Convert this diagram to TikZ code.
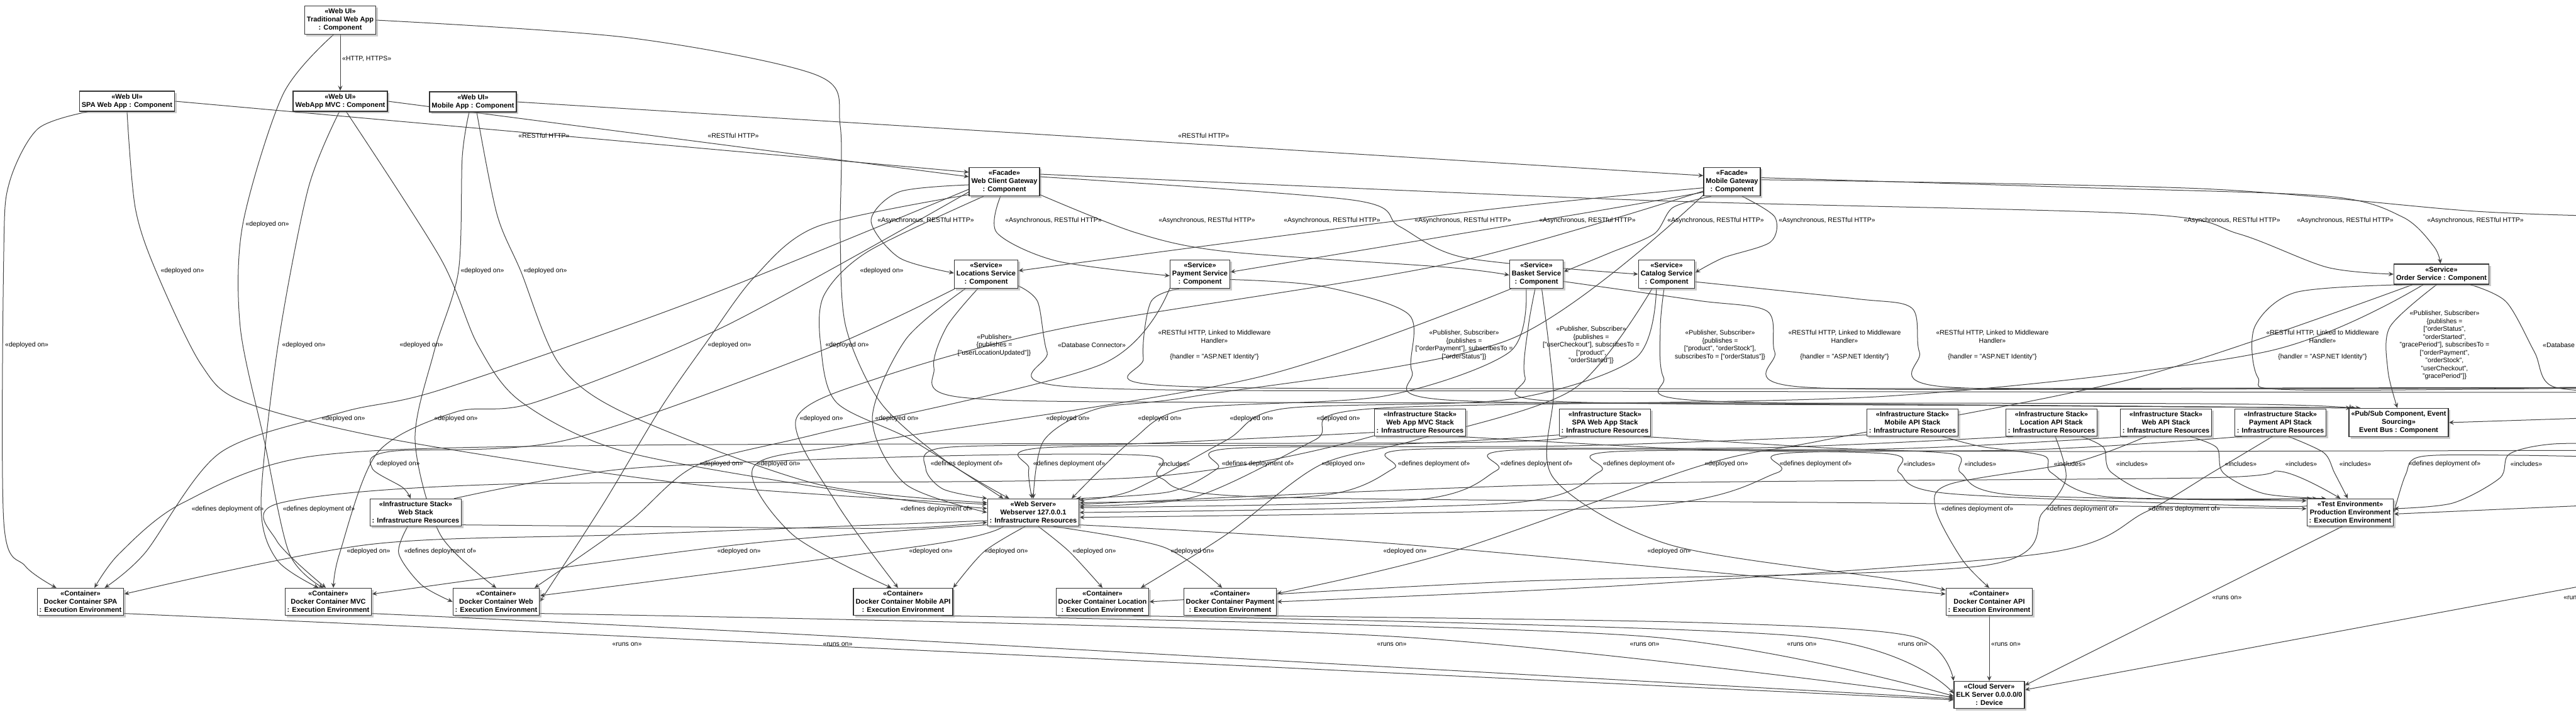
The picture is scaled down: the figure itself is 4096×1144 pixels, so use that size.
\documentclass[tikz,border=0pt]{standalone}
\usepackage{fontspec}
\setmainfont{Liberation Sans}
\usetikzlibrary{arrows.meta,shadows}
\pgfdeclarelayer{edges}
\pgfsetlayers{edges,main}
\tikzset{
  box/.style={draw=black!80, line width=1.3pt, fill=white, align=center,
    font=\bfseries\fontsize{11}{13}\selectfont, inner xsep=3.5pt, inner ysep=4.5pt,
    drop shadow={shadow xshift=3pt, shadow yshift=-3pt, fill=black!40}},
  lbl/.style={align=center, font=\fontsize{10.5}{12.5}\selectfont, inner sep=0pt},
  arr/.style={draw=black!75, line width=1pt, -{Stealth[length=8pt, width=7pt, inset=3pt]}},
}
\begin{document}
\begin{tikzpicture}[x=1pt, y=-1pt]
            \useasboundingbox (0,0) rectangle (4096,1144);
            \clip (0,0) rectangle (4096,1144);

            \node[box] (trad) at (541,32) {«Web UI»\\Traditional Web App\\: Component};
            \node[box] (spa) at (202,161) {«Web UI»\\SPA Web App : Component};
            \node[box] (mvc) at (541,161) {«Web UI»\\WebApp MVC : Component};
            \node[box] (mob) at (752,162) {«Web UI»\\Mobile App : Component};
            \node[box] (wcg) at (1597,289) {«Facade»\\Web Client Gateway\\: Component};
            \node[box] (mgw) at (2754,289) {«Facade»\\Mobile Gateway\\: Component};
            \node[box] (loc) at (1568,436) {«Service»\\Locations Service\\: Component};
            \node[box] (pay) at (1908,436) {«Service»\\Payment Service\\: Component};
            \node[box] (bsk) at (2443,436) {«Service»\\Basket Service\\: Component};
            \node[box] (cat) at (2650,436) {«Service»\\Catalog Service\\: Component};
            \node[box] (ord) at (3882,436) {«Service»\\Order Service : Component};
            \node[box] (mvcstk) at (2258,672) {«Infrastructure Stack»\\Web App MVC Stack\\: Infrastructure Resources};
            \node[box] (spastk) at (2552,672) {«Infrastructure Stack»\\SPA Web App Stack\\: Infrastructure Resources};
            \node[box] (mobstk) at (3041,672) {«Infrastructure Stack»\\Mobile API Stack\\: Infrastructure Resources};
            \node[box] (locstk) at (3262,672) {«Infrastructure Stack»\\Location API Stack\\: Infrastructure Resources};
            \node[box] (apistk) at (3444,672) {«Infrastructure Stack»\\Web API Stack\\: Infrastructure Resources};
            \node[box] (paystk) at (3626,672) {«Infrastructure Stack»\\Payment API Stack\\: Infrastructure Resources};
            \node[box] (bus) at (3814,672) {«Pub/Sub Component, Event\\Sourcing»\\Event Bus : Component};
            \node[box] (webstk) at (661,815) {«Infrastructure Stack»\\Web Stack\\: Infrastructure Resources};
            \node[box] (websrv) at (1643,815) {«Web Server»\\Webserver 127.0.0.1\\: Infrastructure Resources};
            \node[box] (prod) at (3737,815) {«Test Environment»\\Production Environment\\: Execution Environment};
            \node[box] (dspa) at (128,957) {«Container»\\Docker Container SPA\\: Execution Environment};
            \node[box] (dmvc) at (522,957) {«Container»\\Docker Container MVC\\: Execution Environment};
            \node[box] (dweb) at (789,957) {«Container»\\Docker Container Web\\: Execution Environment};
            \node[box] (dmob) at (1436,957) {«Container»\\Docker Container Mobile API\\: Execution Environment};
            \node[box] (dloc) at (1753,957) {«Container»\\Docker Container Location\\: Execution Environment};
            \node[box] (dpay) at (1956,957) {«Container»\\Docker Container Payment\\: Execution Environment};
            \node[box] (dapi) at (3163,957) {«Container»\\Docker Container API\\: Execution Environment};
            \node[box] (elk) at (3163,1105) {«Cloud Server»\\ELK Server 0.0.0.0/0\\: Device};

            \coordinate (offA) at (4200,345);
            \coordinate (idp) at (4200,616);
            \coordinate (dbs) at (4200,624);
            \coordinate (offE) at (4200,716);
            \coordinate (offF) at (4200,728);
            \coordinate (offG) at (4200,706);
            \coordinate (offH) at (4250,905);
            \coordinate (offJ) at (4200,662);
            \coordinate (offK) at (4200,800);

            \node[lbl, anchor=west] (lhttp) at (544,94) {«HTTP, HTTPS»};
            \node[lbl] (lrest1) at (865,216) {«RESTful HTTP»};
            \node[lbl] (lrest2) at (1166,216) {«RESTful HTTP»};
            \node[lbl] (lrest3) at (1914,216) {«RESTful HTTP»};
            \node[lbl] (lasy1) at (1472,351) {«Asynchronous, RESTful HTTP»};
            \node[lbl] (lasy2) at (1675,351) {«Asynchronous, RESTful HTTP»};
            \node[lbl] (lasy3) at (1919,351) {«Asynchronous, RESTful HTTP»};
            \node[lbl] (lasy4) at (2118,351) {«Asynchronous, RESTful HTTP»};
            \node[lbl] (lasy5) at (2326,351) {«Asynchronous, RESTful HTTP»};
            \node[lbl] (lasy6) at (2524,351) {«Asynchronous, RESTful HTTP»};
            \node[lbl] (lasy7) at (2728,351) {«Asynchronous, RESTful HTTP»};
            \node[lbl] (lasy8) at (2905,351) {«Asynchronous, RESTful HTTP»};
            \node[lbl] (lasy9) at (3549,351) {«Asynchronous, RESTful HTTP»};
            \node[lbl] (lasy10) at (3729,351) {«Asynchronous, RESTful HTTP»};
            \node[lbl] (lasy11) at (3936,351) {«Asynchronous, RESTful HTTP»};
            \node[lbl] (lpub1) at (1581,549) {«Publisher»\\\{publishes =\\{}["userLocationUpdated"]\}};
            \node[lbl] (ldb1) at (1736,549) {«Database Connector»};
            \node[lbl] (lmid1) at (1931,549) {«RESTful HTTP, Linked to Middleware\\Handler»\\[12.5pt]\{handler = "ASP.NET Identity"\}};
            \node[lbl] (lpub2) at (2328,549) {«Publisher, Subscriber»\\\{publishes =\\{}["orderPayment"], subscribesTo =\\{}["orderStatus"]\}};
            \node[lbl] (lpub3) at (2530,549) {«Publisher, Subscriber»\\\{publishes =\\{}["userCheckout"], subscribesTo =\\{}["product",\\"orderStarted"]\}};
            \node[lbl] (lpub4) at (2735,549) {«Publisher, Subscriber»\\\{publishes =\\{}["product", "orderStock"],\\subscribesTo = ["orderStatus"]\}};
            \node[lbl] (lmid2) at (2933,549) {«RESTful HTTP, Linked to Middleware\\Handler»\\[12.5pt]\{handler = "ASP.NET Identity"\}};
            \node[lbl] (lmid3) at (3168,549) {«RESTful HTTP, Linked to Middleware\\Handler»\\[12.5pt]\{handler = "ASP.NET Identity"\}};
            \node[lbl] (lmid4) at (3693,549) {«RESTful HTTP, Linked to Middleware\\Handler»\\[12.5pt]\{handler = "ASP.NET Identity"\}};
            \node[lbl] (lpub5) at (3887,549) {«Publisher, Subscriber»\\\{publishes =\\{}["orderStatus",\\"orderStarted",\\"gracePeriod"], subscribesTo =\\{}["orderPayment",\\"orderStock",\\"userCheckout",\\"gracePeriod"]\}};
            \node[lbl, anchor=west] (ldb2) at (4043,549) {«Database Connector»};

            \node[lbl] (ldep1) at (425,357) {«deployed on»};
            \node[lbl] (ldep2) at (290,431) {«deployed on»};
            \node[lbl, anchor=west] (ldep3) at (8,549) {«deployed on»};
            \node[lbl] (ldep4) at (483,549) {«deployed on»};
            \node[lbl] (ldep5) at (670,549) {«deployed on»};
            \node[lbl] (ldep6) at (767,431) {«deployed on»};
            \node[lbl] (ldep7) at (867,431) {«deployed on»};
            \node[lbl] (ldep8) at (1160,549) {«deployed on»};
            \node[lbl] (ldep9) at (1347,549) {«deployed on»};
            \node[lbl] (ldep10) at (1402,431) {«deployed on»};
            \node[lbl] (ldep11) at (546,666) {«deployed on»};
            \node[lbl] (ldep12) at (725,666) {«deployed on»};
            \node[lbl] (ldep13) at (1306,666) {«deployed on»};
            \node[lbl] (ldep14) at (1426,666) {«deployed on»};
            \node[lbl] (ldep15) at (1698,666) {«deployed on»};
            \node[lbl] (ldep16) at (1844,666) {«deployed on»};
            \node[lbl] (ldep17) at (1990,666) {«deployed on»};
            \node[lbl] (ldep18) at (2128,666) {«deployed on»};
            \node[lbl] (ldep19) at (633,738) {«deployed on»};
            \node[lbl] (ldep20) at (1147,738) {«deployed on»};
            \node[lbl] (ldep21) at (1238,738) {«deployed on»};
            \node[lbl] (ldep22) at (2136,738) {«deployed on»};
            \node[lbl] (ldep23) at (2745,738) {«deployed on»};
            \node[lbl] (ldep24) at (586,877) {«deployed on»};
            \node[lbl] (ldep25) at (1175,877) {«deployed on»};
            \node[lbl] (ldep26) at (1480,877) {«deployed on»};
            \node[lbl] (ldep27) at (1600,877) {«deployed on»};
            \node[lbl] (ldep28) at (1740,877) {«deployed on»};
            \node[lbl] (ldep29) at (1896,877) {«deployed on»};
            \node[lbl] (ldep30) at (2234,877) {«deployed on»};
            \node[lbl] (ldep31) at (2654,877) {«deployed on»};

            \node[lbl] (ldef1) at (1537,738) {«defines deployment of»};
            \node[lbl] (ldef2) at (1700,738) {«defines deployment of»};
            \node[lbl] (ldef3) at (2000,738) {«defines deployment of»};
            \node[lbl] (ldef4) at (2280,738) {«defines deployment of»};
            \node[lbl] (ldef5) at (2443,738) {«defines deployment of»};
            \node[lbl] (ldef6) at (2606,738) {«defines deployment of»};
            \node[lbl] (ldef7) at (2887,738) {«defines deployment of»};
            \node[lbl] (ldef8) at (3887,738) {«defines deployment of»};
            \node[lbl] (ldef9) at (362,810) {«defines deployment of»};
            \node[lbl] (ldef10) at (507,810) {«defines deployment of»};
            \node[lbl] (ldef11) at (1489,810) {«defines deployment of»};
            \node[lbl] (ldef12) at (3144,810) {«defines deployment of»};
            \node[lbl] (ldef13) at (3311,810) {«defines deployment of»};
            \node[lbl] (ldef14) at (3473,810) {«defines deployment of»};
            \node[lbl] (ldef15) at (700,877) {«defines deployment of»};

            \node[lbl] (linc1) at (1867,738) {«includes»};
            \node[lbl] (linc2) at (3052,738) {«includes»};
            \node[lbl] (linc3) at (3149,738) {«includes»};
            \node[lbl] (linc4) at (3291,738) {«includes»};
            \node[lbl] (linc5) at (3390,738) {«includes»};
            \node[lbl] (linc6) at (3563,738) {«includes»};
            \node[lbl] (linc7) at (3659,738) {«includes»};
            \node[lbl] (linc8) at (3745,738) {«includes»};
            \node[lbl] (linc9) at (4017,738) {«includes»};

            \node[lbl] (lrun1) at (997,1025) {«runs on»};
            \node[lbl] (lrun2) at (1332,1025) {«runs on»};
            \node[lbl] (lrun3) at (2213,1025) {«runs on»};
            \node[lbl] (lrun4) at (2615,1025) {«runs on»};
            \node[lbl] (lrun5) at (2865,1025) {«runs on»};
            \node[lbl] (lrun6) at (3041,1025) {«runs on»};
            \node[lbl, anchor=west] (lrun7) at (3166,1025) {«runs on»};
            \node[lbl] (lrun8) at (3541,951) {«runs on»};
            \node[lbl, anchor=west] (lrun9) at (4076,951) {«runs on»};

            \begin{pgfonlayer}{edges}
            \fill[white] (0,0) rectangle (4096,1144);

            \draw[arr] (trad) -- (mvc);
            \draw[arr] (spa.east) -- (wcg.165);
            \draw[arr] (mvc.east) -- (wcg.172);
            \draw[arr] (mob.east) -- (mgw.168);

            \draw[arr] plot[smooth] coordinates {(wcg.185) (1430,305) (1385,351) (1430,410) (loc.178)};
            \draw[arr] plot[smooth] coordinates {(wcg.255) (1585,370) (1680,415) (pay.183)};
            \draw[arr] plot[smooth] coordinates {(wcg.340) (1806,370) (1950,400) (2300,425) (bsk.182)};
            \draw[arr] plot[smooth] coordinates {(wcg.8) (2150,318) (2225,360) (2330,410) (cat.180)};
            \draw[arr] plot[smooth] coordinates {(wcg.12) (2600,318) (3400,340) (3560,372) (3700,425) (ord.180)};
            \draw[arr] plot[smooth] coordinates {(mgw.192) (2326,338) (loc.6)};
            \draw[arr] plot[smooth] coordinates {(mgw.200) (2524,338) (pay.4)};
            \draw[arr] plot[smooth] coordinates {(mgw.215) (2660,330) (2630,372) (2560,402) (bsk.5)};
            \draw[arr] plot[smooth] coordinates {(mgw.305) (2822,345) (2815,385) (2740,410) (cat.3)};
            \draw[arr] plot[smooth] coordinates {(mgw.8) (3300,298) (3700,312) (3820,345) (3870,392) (ord.95)};
            \draw[arr] plot[smooth] coordinates {(mgw.4) (3500,300) (3936,336) (offA)};

            \draw[arr] plot[smooth] coordinates {(loc.240) (1505,520) (1485,585) (1530,632) (2000,640) (3500,642) (bus.165)};
            \draw[arr] plot[smooth] coordinates {(pay.350) (2100,455) (2240,500) (2245,590) (2300,636) (3000,643) (bus.163)};
            \draw[arr] plot[smooth] coordinates {(bsk.265) (2430,520) (2425,600) (2470,638) (3200,645) (bus.161)};
            \draw[arr] plot[smooth] coordinates {(cat.260) (2640,520) (2645,600) (2700,637) (3400,646) (bus.159)};
            \draw[arr] plot[smooth] coordinates {(ord.245) (3800,520) (3797,590) (bus.95)};
            \draw[arr] (offJ) -- (bus.east);

            \draw[arr] plot[smooth] coordinates {(loc.340) (1650,480) (1665,560) (1700,615) (2500,622) (dbs)};
            \draw[arr] plot[smooth] coordinates {(pay.215) (1830,480) (1818,570) (1850,613) (2600,618) (idp)};
            \draw[arr] plot[smooth] coordinates {(bsk.345) (2700,478) (2810,495) (2822,560) (2860,615) (3500,618) (idp)};
            \draw[arr] plot[smooth] coordinates {(cat.345) (2950,475) (3040,490) (3052,560) (3090,615) (3700,618) (idp)};
            \draw[arr] plot[smooth] coordinates {(ord.195) (3650,465) (3585,520) (3590,600) (3650,620) (idp)};
            \draw[arr] plot[smooth] coordinates {(ord.340) (3985,480) (4030,560) (4060,615) (dbs)};

            \draw[arr] plot[smooth] coordinates {(trad.245) (450,150) (386,357) (382,520) (420,700) (460,880) (dmvc.110)};
            \draw[arr] plot[smooth] coordinates {(spa.south) (215,330) (248,431) (320,580) (390,640) (630,700) (1100,770) (websrv.170)};
            \draw[arr] plot[smooth] coordinates {(spa.195) (60,205) (15,290) (6,400) (6,830) (40,900) (dspa.150)};
            \draw[arr] plot[smooth] coordinates {(mvc.265) (490,300) (442,549) (415,800) (440,890) (dmvc.125)};
            \draw[arr] plot[smooth] coordinates {(mvc.300) (700,410) (760,549) (830,640) (1000,720) (1400,790) (websrv.175)};
            \draw[arr] plot[smooth] coordinates {(mob.250) (735,250) (729,431) (690,560) (660,700) (700,850) (dweb.north)};
            \draw[arr] plot[smooth] coordinates {(mob.290) (790,340) (828,431) (890,580) (1000,660) (1300,770) (websrv.168)};
            \draw[arr] plot[smooth] coordinates {(wcg.200) (1300,360) (1200,440) (1120,549) (1050,650) (960,800) (dweb.east)};
            \draw[arr] plot[smooth] coordinates {(wcg.215) (1380,400) (1310,470) (1305,549) (1330,640) (1450,700) (websrv.155)};
            \draw[arr] plot[smooth] coordinates {(trad.east) (1000,60) (1300,120) (1336,200) (1336,380) (1345,520) (1400,640) (1500,730) (websrv.150)};
            \draw[arr] plot[smooth] coordinates {(wcg.192) (1100,480) (700,620) (546,655) (350,720) (230,880) (dspa.30)};
            \draw[arr] plot[smooth] coordinates {(wcg.196) (1150,520) (850,640) (725,655) (600,720) (540,880) (dmvc.70)};
            \draw[arr] plot[smooth] coordinates {(mgw.198) (2300,420) (1700,520) (1400,600) (1266,666) (1330,800) (dmob.110)};
            \draw[arr] plot[smooth] coordinates {(loc.215) (1440,540) (1387,666) (1440,770) (websrv.west)};
            \draw[arr] plot[smooth] coordinates {(mgw.205) (2400,540) (1900,630) (1745,650) (1660,700) (websrv.north)};
            \draw[arr] plot[smooth] coordinates {(bsk.235) (2400,560) (2200,630) (1890,650) (1800,700) (websrv.20)};
            \draw[arr] plot[smooth] coordinates {(cat.235) (2600,570) (2400,635) (2040,650) (1950,700) (1800,780) (websrv.15)};
            \draw[arr] plot[smooth] coordinates {(ord.210) (3600,560) (3000,630) (2180,650) (2090,700) (1900,790) (websrv.8)};
            \draw[arr] plot[smooth] coordinates {(loc.205) (1300,560) (900,700) (620,718) (592,745) (640,775) (webstk.110)};
            \draw[arr] plot[smooth] coordinates {(pay.205) (1750,580) (1300,690) (1108,740) (1000,830) (dweb.20)};
            \draw[arr] plot[smooth] coordinates {(bsk.210) (2000,600) (1400,700) (1200,740) (1260,850) (dmob.130)};
            \draw[arr] plot[smooth] coordinates {(cat.225) (2500,620) (2250,700) (2098,740) (1950,850) (dloc.20)};
            \draw[arr] plot[smooth] coordinates {(ord.200) (3400,600) (2900,700) (2706,740) (2300,880) (dpay.10)};
            \draw[arr] plot[smooth] coordinates {(websrv.190) (1000,850) (586,866) (dspa.10)};
            \draw[arr] plot[smooth] coordinates {(websrv.195) (1175,866) (dmvc.10)};
            \draw[arr] plot[smooth] coordinates {(websrv.205) (1480,866) (dweb.8)};
            \draw[arr] plot[smooth] coordinates {(websrv.240) (1565,877) (dmob.north east)};
            \draw[arr] plot[smooth] coordinates {(websrv.290) (1700,877) (dloc.north)};
            \draw[arr] plot[smooth] coordinates {(websrv.325) (1850,870) (dpay.120)};
            \draw[arr] plot[smooth] coordinates {(websrv.345) (2234,866) (dapi.170)};
            \draw[arr] plot[smooth] coordinates {(bsk.290) (2470,620) (2470,760) (2654,866) (3000,920) (dapi.165)};

            \draw[arr] plot[smooth] coordinates {(mvcstk.192) (1800,706) (1500,712) (1472,745) (1500,778) (websrv.north west)};
            \draw[arr] plot[smooth] coordinates {(spastk.195) (2200,707) (1660,712) (1636,745) (websrv.95)};
            \draw[arr] plot[smooth] coordinates {(mobstk.195) (2500,709) (1960,713) (1936,745) (1860,782) (websrv.18)};
            \draw[arr] plot[smooth] coordinates {(locstk.200) (2800,712) (2240,715) (2216,745) (2100,788) (websrv.12)};
            \draw[arr] plot[smooth] coordinates {(apistk.200) (3000,714) (2405,716) (2380,748) (2250,795) (websrv.6)};
            \draw[arr] plot[smooth] coordinates {(paystk.200) (3200,716) (2570,718) (2544,750) (2400,800) (websrv.0)};
            \draw[arr] plot[smooth] coordinates {(offE) (3400,718) (2850,720) (2825,752) (2600,806) (websrv.354)};
            \draw[arr] plot[smooth] coordinates {(offF) (4000,724) (3850,726) (3825,755) (prod.east)};
            \draw[arr] plot[smooth] coordinates {(spastk.200) (2300,704) (1000,708) (500,725) (290,800) (190,880) (dspa.45)};
            \draw[arr] plot[smooth] coordinates {(mvcstk.196) (1800,760) (800,770) (445,800) (440,860) (dmvc.100)};
            \draw[arr] plot[smooth] coordinates {(webstk.345) (1100,838) (1430,840) (websrv.192)};
            \draw[arr] plot[smooth] coordinates {(apistk.215) (3300,735) (3100,770) (3078,810) (3120,890) (dapi.north)};
            \draw[arr] plot[smooth] coordinates {(locstk.285) (3285,760) (3248,815) (3150,900) (2400,925) (dloc.east)};
            \draw[arr] plot[smooth] coordinates {(paystk.240) (3520,750) (3410,815) (3250,880) (2600,930) (dpay.east)};
            \draw[arr] plot[smooth] coordinates {(webstk.240) (634,880) (670,930) (dweb.west)};

            \draw[arr] plot[smooth] coordinates {(webstk.20) (1000,745) (1500,725) (1830,725) (1845,760) (2000,790) (3000,800) (prod.175)};
            \draw[arr] plot[smooth] coordinates {(mvcstk.340) (2700,715) (3005,722) (3020,752) (3100,785) (3600,805) (prod.170)};
            \draw[arr] plot[smooth] coordinates {(spastk.340) (2900,712) (3105,722) (3118,752) (3200,787) (prod.165)};
            \draw[arr] plot[smooth] coordinates {(mobstk.335) (3150,710) (3250,725) (3262,752) (3350,790) (prod.160)};
            \draw[arr] plot[smooth] coordinates {(locstk.335) (3345,712) (3358,752) (3450,792) (prod.157)};
            \draw[arr] plot[smooth] coordinates {(apistk.330) (3525,712) (3535,752) (3600,785) (prod.150)};
            \draw[arr] plot[smooth] coordinates {(websrv.10) (2500,770) (3500,760) (3628,750) (prod.125)};
            \draw[arr] plot[smooth] coordinates {(paystk.300) (3695,720) (3712,752) (prod.100)};
            \draw[arr] plot[smooth] coordinates {(offG) (4060,706) (3990,722) (3975,760) (3900,800) (prod.5)};
            \draw[arr] (offK) -- (prod.358);

            \draw[arr] plot[smooth] coordinates {(dspa.345) (997,1012) (elk.188)};
            \draw[arr] plot[smooth] coordinates {(dmvc.345) (1332,1012) (elk.186)};
            \draw[arr] plot[smooth] coordinates {(dweb.345) (2213,1012) (elk.184)};
            \draw[arr] plot[smooth] coordinates {(dmob.340) (2615,1012) (elk.182)};
            \draw[arr] plot[smooth] coordinates {(dloc.335) (2865,1012) (elk.178)};
            \draw[arr] plot[smooth] coordinates {(dpay.330) (2700,990) (3041,1012) (elk.north west)};
            \draw[arr] (dapi) -- (elk);
            \draw[arr] (prod.240) -- (elk.15);
            \draw[arr] (offH) -- (elk.8);
            \end{pgfonlayer}
\end{tikzpicture}
\end{document}
